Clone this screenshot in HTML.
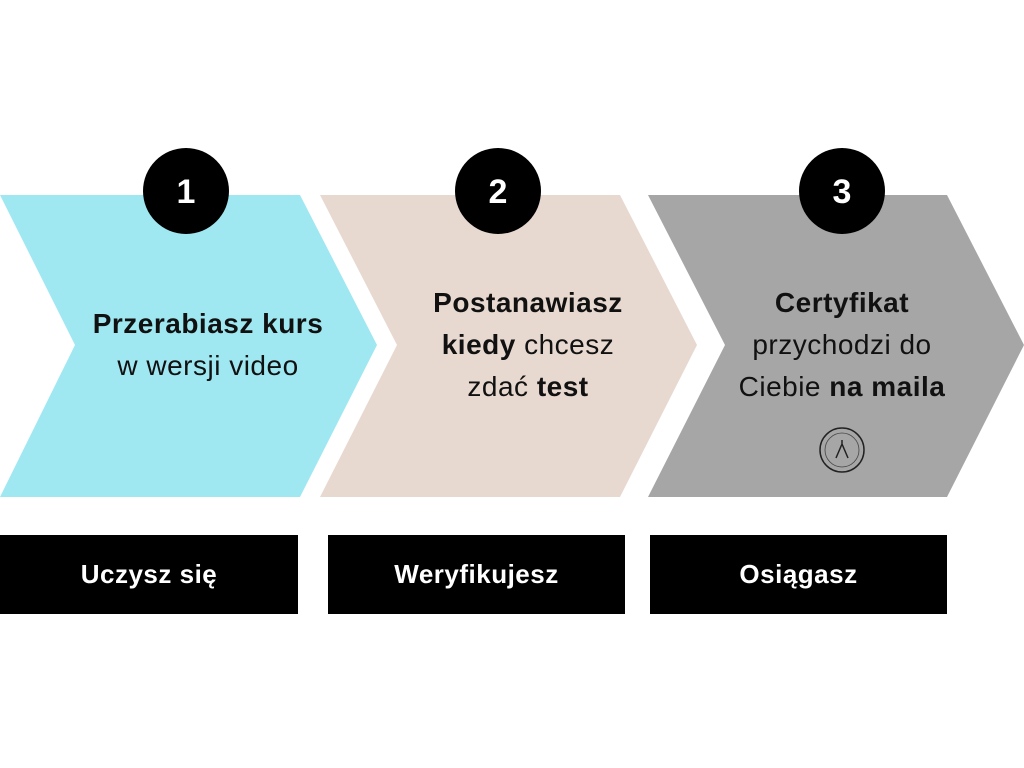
<!DOCTYPE html>
<html><head><meta charset="utf-8"><style>
body{margin:0;width:1024px;height:768px;background:#fff;overflow:hidden;position:relative;font-family:"Liberation Sans",sans-serif}
.t{position:absolute;text-align:center;color:#111;font-size:28px;line-height:42px;letter-spacing:0.5px}
.b{position:absolute;background:#000;color:#fff;font-weight:bold;font-size:26px;display:flex;align-items:center;justify-content:center;height:79px;top:535px;letter-spacing:0.5px}
</style></head><body>
<svg width="1024" height="768" style="position:absolute;left:0;top:0">
<polygon points="0,195 300,195 377,345 300,497 0,497 75,345" fill="#9fe8f2"/>
<polygon points="320,195 620,195 697,345 620,497 320,497 397,345" fill="#e8d9d0"/>
<polygon points="648,195 947,195 1024,345 947,497 648,497 725,345" fill="#a6a6a6"/>
<circle cx="186" cy="191" r="43" fill="#000"/>
<circle cx="498" cy="191" r="43" fill="#000"/>
<circle cx="842" cy="191" r="43" fill="#000"/>
<text x="186" y="203" fill="#fff" font-size="34" font-weight="bold" text-anchor="middle" font-family="Liberation Sans">1</text>
<text x="498" y="203" fill="#fff" font-size="34" font-weight="bold" text-anchor="middle" font-family="Liberation Sans">2</text>
<text x="842" y="203" fill="#fff" font-size="34" font-weight="bold" text-anchor="middle" font-family="Liberation Sans">3</text>
<circle cx="842" cy="450" r="22" fill="none" stroke="#222" stroke-width="1.5"/>
<circle cx="842" cy="450" r="17" fill="none" stroke="#444" stroke-width="0.8"/>
<path d="M836 458 L842 444 L848 458 M842 444 L842 440" stroke="#222" stroke-width="1.5" fill="none"/>
</svg>
<div class="t" style="left:58px;width:300px;top:303px"><b>Przerabiasz kurs</b><br>w wersji video</div>
<div class="t" style="left:378px;width:300px;top:282px"><b>Postanawiasz</b><br><b>kiedy</b> chcesz<br>zdać <b>test</b></div>
<div class="t" style="left:692px;width:300px;top:282px"><b>Certyfikat</b><br>przychodzi do<br>Ciebie <b>na maila</b></div>
<div class="b" style="left:0;width:298px">Uczysz się</div>
<div class="b" style="left:328px;width:297px">Weryfikujesz</div>
<div class="b" style="left:650px;width:297px">Osiągasz</div>
</body></html>
